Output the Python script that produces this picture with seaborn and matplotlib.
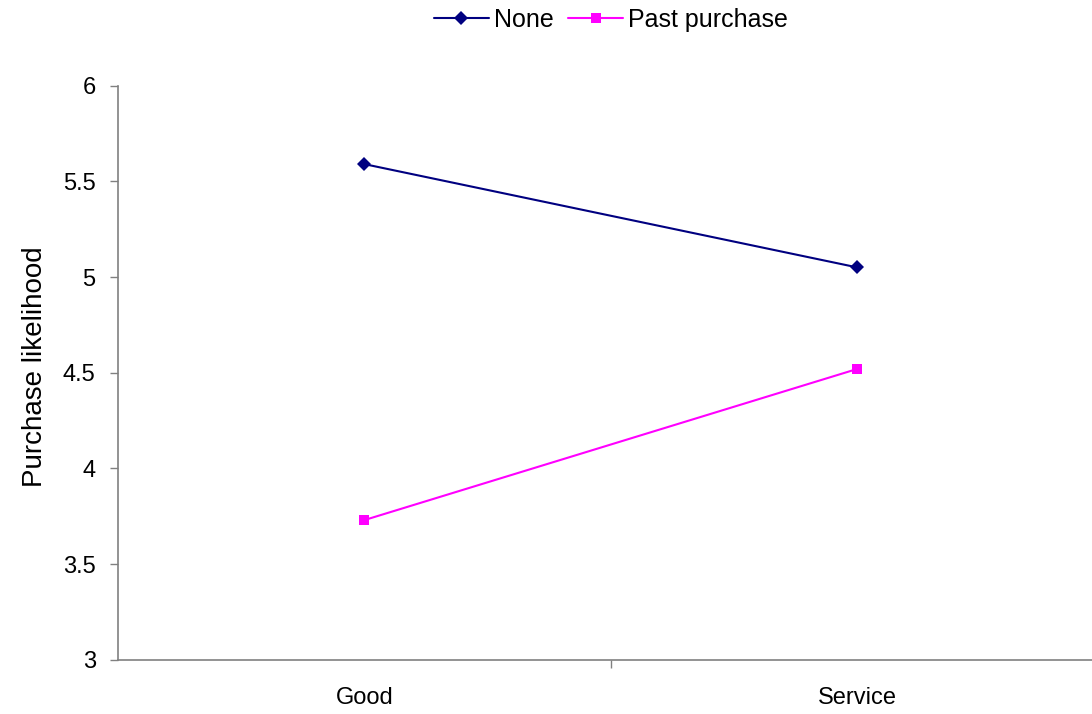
import matplotlib
matplotlib.use("Agg")
import matplotlib.pyplot as plt
import seaborn as sns
import pandas as pd

# Mean purchase likelihood by offering type and prior-relationship condition
categories = ["Good", "Service"]
none_vals = [5.59, 5.05]
past_vals = [3.73, 4.52]
series_names = ["None", "Past purchase"]

df = pd.DataFrame({
    "Offering": categories * 2,
    "Likelihood": none_vals + past_vals,
    "Condition": [series_names[0]] * 2 + [series_names[1]] * 2,
})
df["x"] = df["Offering"].map({c: i for i, c in enumerate(categories)})

sns.set_style("white")
plt.rcParams["font.family"] = ["Liberation Sans", "DejaVu Sans"]
plt.rcParams["text.color"] = "black"
plt.rcParams["axes.labelcolor"] = "black"
plt.rcParams["xtick.color"] = "black"
plt.rcParams["ytick.color"] = "black"

fig = plt.figure(figsize=(10.92, 7.14), dpi=100)
ax = fig.add_axes([0.108, 0.076, 1.011 - 0.108, 0.880 - 0.076])

palette = {"None": "#000080", "Past purchase": "#FF00FF"}
markers = {"None": "D", "Past purchase": "s"}
sizes = {"None": 7, "Past purchase": 7.5}

for name in series_names:
    sub = df[df["Condition"] == name]
    sns.lineplot(data=sub, x="x", y="Likelihood", ax=ax, color=palette[name],
                 marker=markers[name], markersize=sizes[name], linewidth=1.5,
                 markeredgewidth=0, label=name, clip_on=False)

ax.set_xlim(-0.5, 1.5)
ax.set_ylim(3, 6)
ax.set_yticks([3, 3.5, 4, 4.5, 5, 5.5, 6])
ax.set_yticklabels(["3", "3.5", "4", "4.5", "5", "5.5", "6"])
ax.set_xticks([0.5])
ax.set_xticklabels([""])
for i, c in enumerate(categories):
    ax.text(i, -0.047, c, transform=ax.get_xaxis_transform(), ha="center",
            va="top", fontsize=17, color="black")

ax.set_xlabel("")
ax.set_ylabel("Purchase likelihood", fontsize=20, labelpad=4)
ax.yaxis.set_label_coords(-0.071, 0.51)
ax.tick_params(axis="y", labelsize=17, length=6, width=1, color="#808080",
               labelcolor="black", direction="out", left=True, pad=10)
ax.tick_params(axis="x", length=6, width=1, color="#808080", direction="out",
               bottom=True)

for side in ["top", "right"]:
    ax.spines[side].set_visible(False)
for side in ["left", "bottom"]:
    ax.spines[side].set_color("#808080")
    ax.spines[side].set_linewidth(1.2)

handles, labels = ax.get_legend_handles_labels()
ax.get_legend().remove()
fig.legend(handles, labels, loc="center", bbox_to_anchor=(611 / 1092, 1 - 20 / 714),
           ncol=2, frameon=False, fontsize=18, handlelength=2.2,
           handletextpad=0.2, columnspacing=0.6, borderaxespad=0, borderpad=0)

fig.savefig("out.png", dpi=100)
